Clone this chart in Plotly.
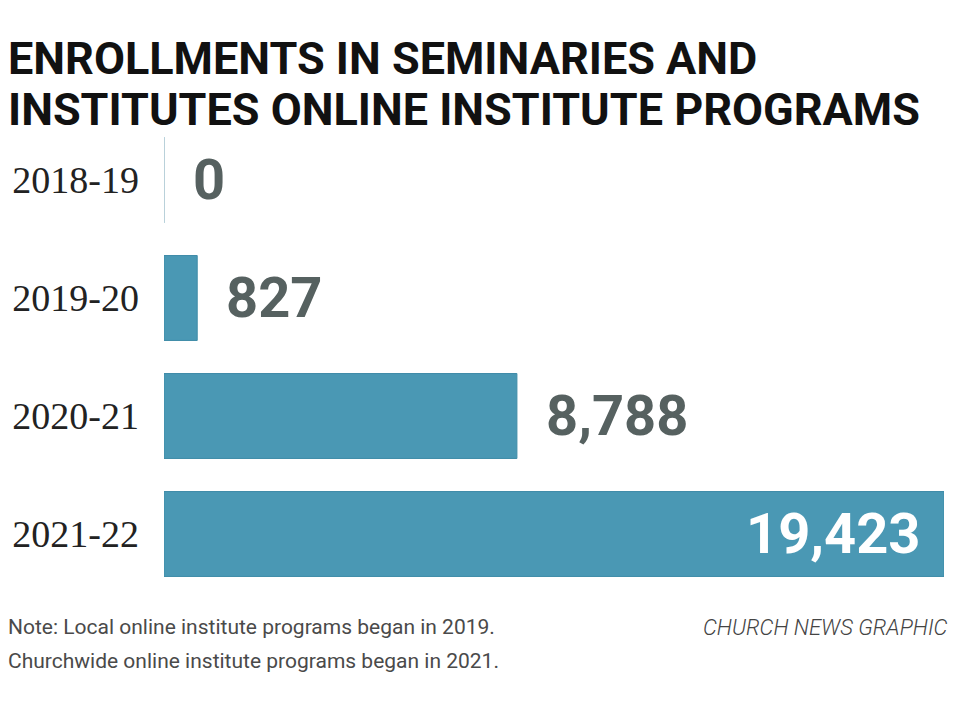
import plotly.graph_objects as go

categories = ["2018-19", "2019-20", "2020-21", "2021-22"]
enrollments = [0, 827, 8788, 19423]
labels = ["0", "827", "8,788", "19,423"]
inside = [False, False, False, True]

title_lines = ["ENROLLMENTS IN SEMINARIES AND", "INSTITUTES ONLINE INSTITUTE PROGRAMS"]
note_lines = ["Note: Local online institute programs began in 2019.",
              "Churchwide online institute programs began in 2021."]
credit_text = "CHURCH NEWS GRAPHIC"

BAR = "#4a98b4"
bargap = 0.28
L, R, T, B = 164, 16, 121, 127
W, H = 960, 720
PW, PH = W - L - R, H - T - B


def px_x(x):
    return (x - L) / PW


def px_y(y):
    return (H - B - y) / PH


fig = go.Figure()
fig.add_trace(go.Bar(
    x=enrollments, y=categories, orientation="h",
    marker=dict(color=BAR, line=dict(color="#3f8ca8", width=1)),
    hoverinfo="skip",
))

# faint outline for the zero-valued bar
fig.add_shape(type="line", xref="x", yref="y", x0=0, x1=0,
              y0=-(1 - bargap) / 2, y1=(1 - bargap) / 2,
              line=dict(color="#d3dfe4", width=1.5))

for cat, val, lab, ins in zip(categories, enrollments, labels, inside):
    fig.add_annotation(
        x=val, y=cat, xref="x", yref="y", text=lab, showarrow=False,
        xanchor="right" if ins else "left",
        xshift=-22 if ins else 27,
        font=dict(family="Roboto", size=56, color="white" if ins else "#566160", weight="bold"),
    )

for txt, yc in zip(title_lines, [58, 109]):
    fig.add_annotation(xref="paper", yref="paper", x=px_x(6), y=px_y(yc), xanchor="left",
                       yanchor="middle", text="<b>" + txt + "</b>", showarrow=False,
                       font=dict(family="Roboto", size=45, color="#111111"))

for txt, yc in zip(note_lines, [627, 661]):
    fig.add_annotation(xref="paper", yref="paper", x=px_x(6), y=px_y(yc), xanchor="left",
                       yanchor="middle", text=txt, showarrow=False, align="left",
                       font=dict(family="Roboto", size=21, color="#4a4a4a"))
fig.add_annotation(xref="paper", yref="paper", x=px_x(950), y=px_y(627), xanchor="right",
                   yanchor="middle", text="<i>" + credit_text + "</i>", showarrow=False,
                   font=dict(family="Roboto", size=22, color="#444444", weight=300))

fig.update_layout(
    width=W, height=H,
    margin=dict(l=L, r=R, t=T, b=B),
    paper_bgcolor="white", plot_bgcolor="white",
    bargap=bargap, showlegend=False,
    xaxis=dict(range=[0, max(enrollments)], visible=False, fixedrange=True),
    yaxis=dict(autorange="reversed", showgrid=False, showline=False, zeroline=False,
               ticks="", ticklabelstandoff=24,
               tickfont=dict(family="Liberation Serif", size=38, color="#222222")),
)

fig.write_html("out.html")
